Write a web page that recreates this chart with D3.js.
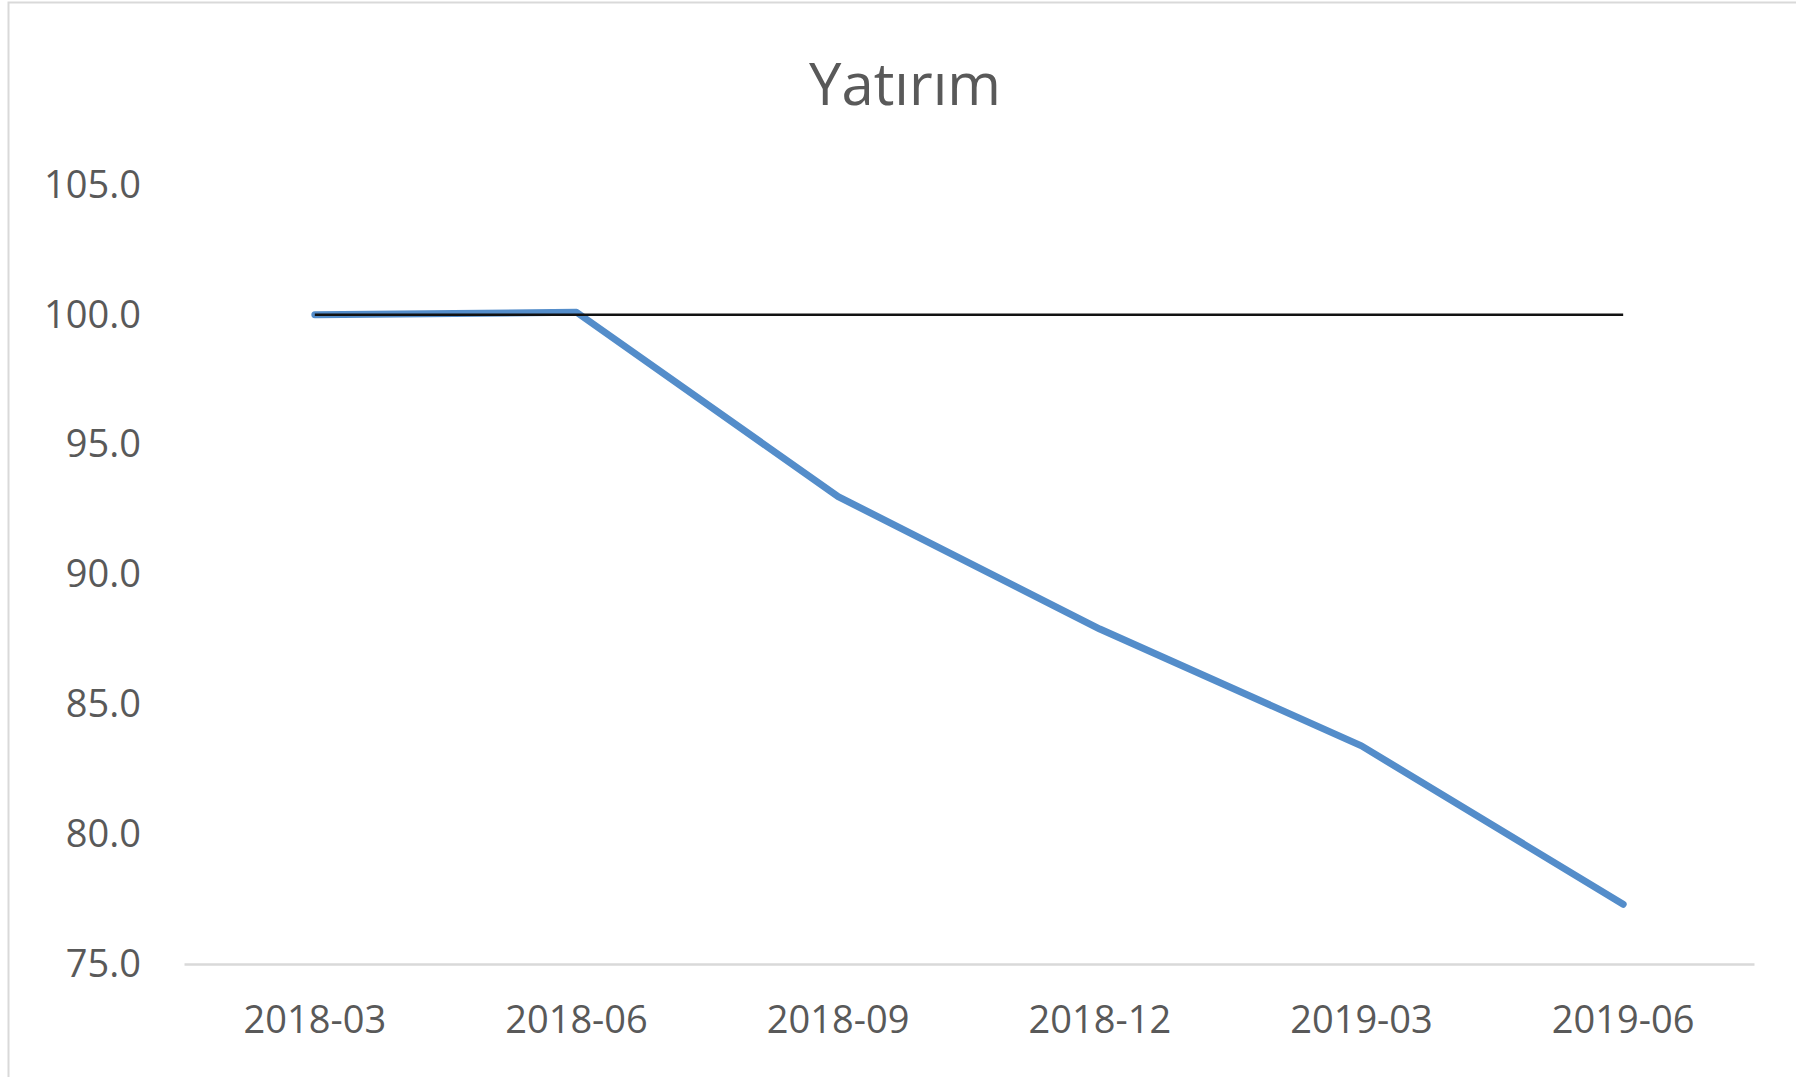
<!DOCTYPE html>
<html>
<head>
<meta charset="utf-8">
<script src="https://cdn.jsdelivr.net/npm/d3@7"></script>
<style>
  html, body { margin: 0; padding: 0; background: #fff; overflow: hidden; }
  svg { display: block; font-family: "Open Sans", sans-serif; }
  .axis text { fill: #595959; font-size: 38px; font-family: "Open Sans", sans-serif; }
</style>
</head>
<body>
<svg id="chart" width="1796" height="1077"></svg>
<script>
const title = 'Yatırım';
const periods = ['2018-03', '2018-06', '2018-09', '2018-12', '2019-03', '2019-06'];
const values = [100.0, 100.1, 93.0, 87.9, 83.4, 77.3];
const baseline = [100, 100, 100, 100, 100, 100];
const yTicks = [75, 80, 85, 90, 95, 100, 105];

const svg = d3.select('#chart');

// chart frame
svg.append('rect')
    .attr('x', 8.5)
    .attr('y', 2.5)
    .attr('width', 1900)
    .attr('height', 1200)
    .attr('fill', 'none')
    .attr('stroke', '#d9d9d9')
    .attr('stroke-width', 2);

const x = d3.scaleBand()
    .domain(periods)
    .range([184, 1754]);

const y = d3.scaleLinear()
    .domain([75, 105])
    .range([964, 185]);

// title
svg.append('text')
    .attr('x', 905)
    .attr('y', 105)
    .attr('text-anchor', 'middle')
    .attr('fill', '#595959')
    .attr('font-size', 58)
    .text(title);

// AXES

const yAxis = svg.append('g')
    .attr('class', 'axis')
    .attr('transform', 'translate(184,0)')
    .call(d3.axisLeft(y)
        .tickValues(yTicks)
        .tickSize(0)
        .tickPadding(43)
        .tickFormat(d3.format('.1f')));
yAxis.select('.domain').remove();

const xAxis = svg.append('g')
    .attr('class', 'axis')
    .attr('transform', `translate(0,${y(75)})`)
    .call(d3.axisBottom(x).tickSize(0).tickPadding(42));
xAxis.select('.domain')
    .attr('stroke', '#d9d9d9')
    .attr('stroke-width', 2.5);

// LINES

const line = d3.line()
    .x((d, i) => x(periods[i]) + x.bandwidth() / 2)
    .y(d => y(d));

svg.append('path')
    .datum(values)
    .attr('fill', 'none')
    .attr('stroke', '#548dca')
    .attr('stroke-width', 7)
    .attr('stroke-linejoin', 'round')
    .attr('stroke-linecap', 'round')
    .attr('d', line);

svg.append('path')
    .datum(baseline)
    .attr('fill', 'none')
    .attr('stroke', '#111')
    .attr('stroke-width', 2.5)
    .attr('d', line);
</script>
</body>
</html>
